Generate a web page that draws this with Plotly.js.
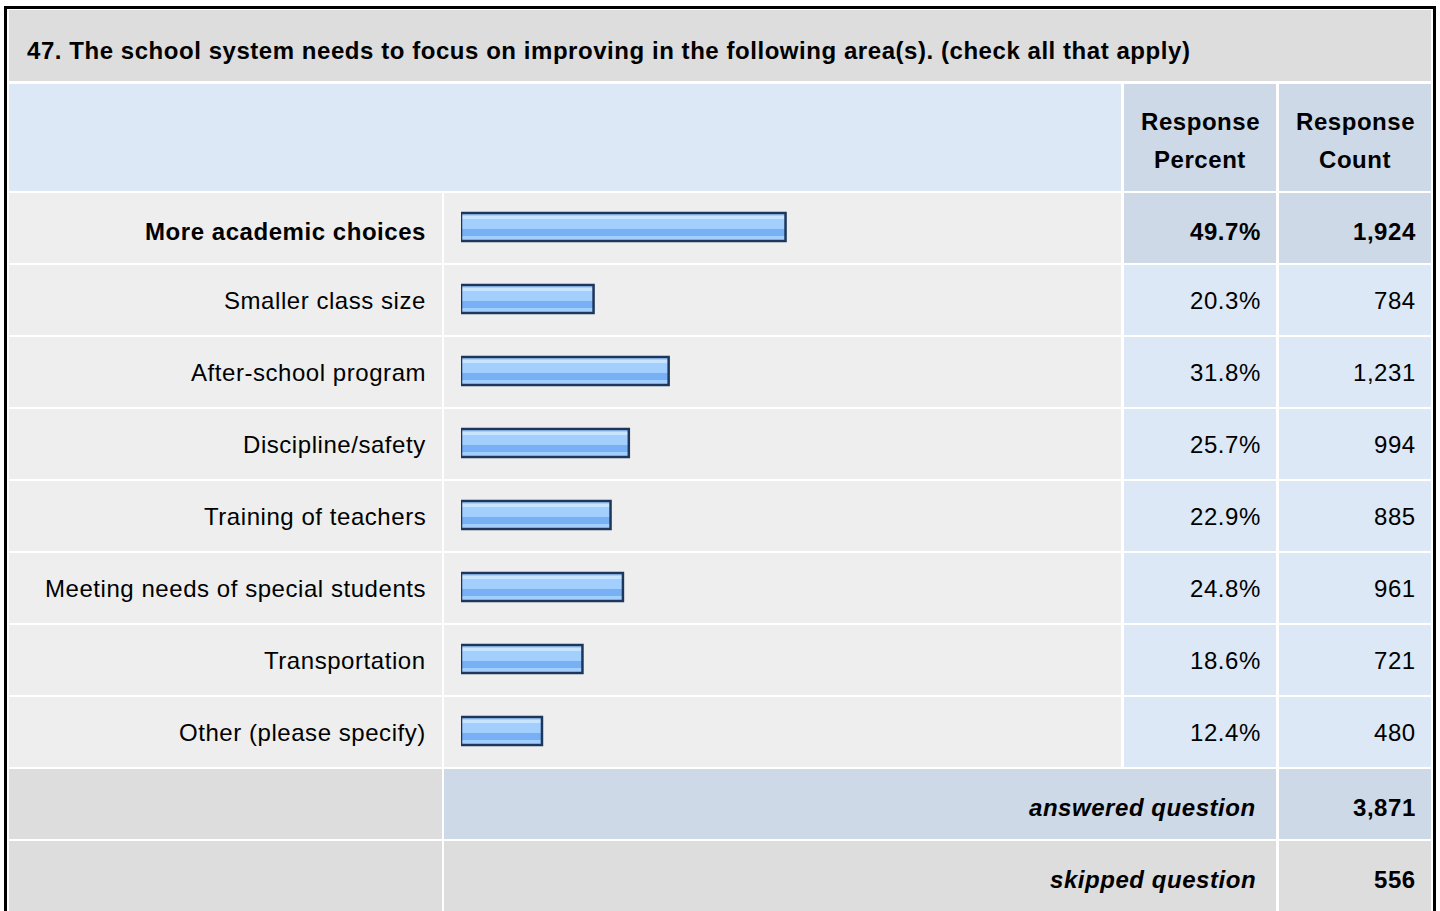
<!DOCTYPE html>
<html>
<head>
<meta charset="utf-8">
<script src="https://cdn.plot.ly/plotly-3.0.1.min.js"></script>
<style>
  html, body { margin: 0; padding: 0; background: #ffffff; }
  #chart { width: 1440px; height: 911px; }
  svg text { letter-spacing: 0.55px; }
</style>
</head>
<body>
<div id="chart"></div>
<script>
// ---------- data ----------
const titleText = "47. The school system needs to focus on improving in the following area(s). (check all that apply)";
const headerPercent = ["Response", "Percent"];
const headerCount = ["Response", "Count"];
const categories = [
  "More academic choices",
  "Smaller class size",
  "After-school program",
  "Discipline/safety",
  "Training of teachers",
  "Meeting needs of special students",
  "Transportation",
  "Other (please specify)"
];
const percents = [49.7, 20.3, 31.8, 25.7, 22.9, 24.8, 18.6, 12.4];
const counts = [1924, 784, 1231, 994, 885, 961, 721, 480];
const summaryLabels = ["answered question", "skipped question"];
const summaryValues = [3871, 556];

// ---------- geometry helpers (pixel -> paper) ----------
const W = 1440, H = 911;
const px = x => x / W;
const py = y => 1 - y / H;
const FONT = "Liberation Sans, Arial, Helvetica, sans-serif";
const fmtCount = v => v.toLocaleString("en-US");
const fmtPct = v => v.toFixed(1) + "%";

const C_TITLE = "#dddddd";
const C_HEAD = "#dce8f5";
const C_HEAD2 = "#cdd9e6";
const C_ROW = "#eeeeee";
const C_CELL = "#dce8f5";

const shapes = [];
function rect(x0, y0, x1, y1, color) {
  shapes.push({type: "rect", xref: "paper", yref: "paper", layer: "below",
    x0: px(x0), x1: px(x1), y0: py(y1), y1: py(y0),
    fillcolor: color, line: {width: 0}});
}

// title band & header
rect(9, 10, 1431, 81, C_TITLE);
rect(9, 84, 1121, 191, C_HEAD);
rect(1124, 84, 1276, 191, C_HEAD2);
rect(1279, 84, 1431, 191, C_HEAD2);

// data rows
const rowTop = 192, rowH = 72;
categories.forEach((c, i) => {
  const t = rowTop + i * rowH + 1, b = rowTop + (i + 1) * rowH - 1;
  const cellColor = i === 0 ? C_HEAD2 : C_CELL;
  rect(9, t, 442, b, C_ROW);
  rect(444, t, 1121, b, C_ROW);
  rect(1124, t, 1276, b, cellColor);
  rect(1279, t, 1431, b, cellColor);
});
// summary rows
rect(9, 769, 442, 839, C_TITLE);
rect(444, 769, 1276, 839, C_HEAD2);
rect(1279, 769, 1431, 839, C_HEAD2);
rect(9, 841, 442, 915, C_TITLE);
rect(444, 841, 1276, 915, C_TITLE);
rect(1279, 841, 1431, 915, C_TITLE);

// outer black frame
shapes.push({type: "rect", xref: "paper", yref: "paper", layer: "above",
  x0: px(5.5), x1: px(1434.5), y0: py(930), y1: py(7.5),
  fillcolor: "rgba(0,0,0,0)", line: {color: "#000000", width: 3}});

// ---------- annotations ----------
const annotations = [];
function txt(text, x, y, xanchor, size, extra) {
  annotations.push(Object.assign({
    text: text, xref: "paper", yref: "paper", x: px(x), y: py(y),
    xanchor: xanchor, yanchor: "middle", showarrow: false,
    font: {family: FONT, size: size, color: "#000000"}
  }, extra || {}));
}
txt("<b>" + titleText + "</b>", 25, 50, "left", 24);
txt("<b>" + headerPercent[0] + "</b>", 1200, 122, "center", 24);
txt("<b>" + headerPercent[1] + "</b>", 1200, 159, "center", 24);
txt("<b>" + headerCount[0] + "</b>", 1355, 122, "center", 24);
txt("<b>" + headerCount[1] + "</b>", 1355, 159, "center", 24);

categories.forEach((c, i) => {
  const bold = i === 0;
  const w = s => bold ? "<b>" + s + "</b>" : s;
  const common = {yref: "y", y: c, yshift: i === 0 ? -3 : 0};
  annotations.push(Object.assign({text: w(c), xref: "paper", x: px(428), xanchor: "right",
    yanchor: "middle", showarrow: false, font: {family: FONT, size: 24, color: "#000"}}, common));
  annotations.push(Object.assign({text: w(fmtPct(percents[i])), xref: "paper", x: px(1263), xanchor: "right",
    yanchor: "middle", showarrow: false, font: {family: FONT, size: 24, color: "#000"}}, common));
  annotations.push(Object.assign({text: w(fmtCount(counts[i])), xref: "paper", x: px(1418), xanchor: "right",
    yanchor: "middle", showarrow: false, font: {family: FONT, size: 24, color: "#000"}}, common));
});

txt("<b><i>" + summaryLabels[0] + "</i></b>", 1258, 807, "right", 24);
txt("<b>" + fmtCount(summaryValues[0]) + "</b>", 1418, 807, "right", 24);
txt("<b><i>" + summaryLabels[1] + "</i></b>", 1258, 879, "right", 24);
txt("<b>" + fmtCount(summaryValues[1]) + "</b>", 1418, 879, "right", 24);

// ---------- bars ----------
const U = 1 / 72; // one pixel in category units
const barBase = {type: "bar", orientation: "h", x: percents, y: categories,
  hoverinfo: "skip", showlegend: false};
const traces = [
  Object.assign({}, barBase, {offset: -15 * U, width: 28 * U,
    marker: {color: "#a3cfff", line: {width: 0}}}),
  Object.assign({}, barBase, {offset: -12 * U, width: 3 * U,
    marker: {color: "#c8e4ff", line: {width: 0}}}),
  Object.assign({}, barBase, {offset: 1 * U, width: 7 * U,
    marker: {color: "#78b0f5", line: {width: 0}}}),
  Object.assign({}, barBase, {offset: -15 * U, width: 28 * U,
    marker: {color: "rgba(0,0,0,0)", line: {width: 2.5, color: "#1d375c"}}})
];

const layout = {
  width: W, height: H,
  margin: {l: 0, r: 0, t: 0, b: 0, pad: 0},
  paper_bgcolor: "#ffffff",
  plot_bgcolor: "rgba(0,0,0,0)",
  barmode: "overlay",
  showlegend: false,
  xaxis: {domain: [px(461), px(1114)], range: [0, 100], visible: false, fixedrange: true},
  yaxis: {domain: [py(768), py(192)], type: "category", categoryarray: categories,
    categoryorder: "array", range: [7.5, -0.5], visible: false, fixedrange: true},
  shapes: shapes,
  annotations: annotations
};

Plotly.newPlot("chart", traces, layout, {displayModeBar: false, staticPlot: true});
</script>
</body>
</html>
